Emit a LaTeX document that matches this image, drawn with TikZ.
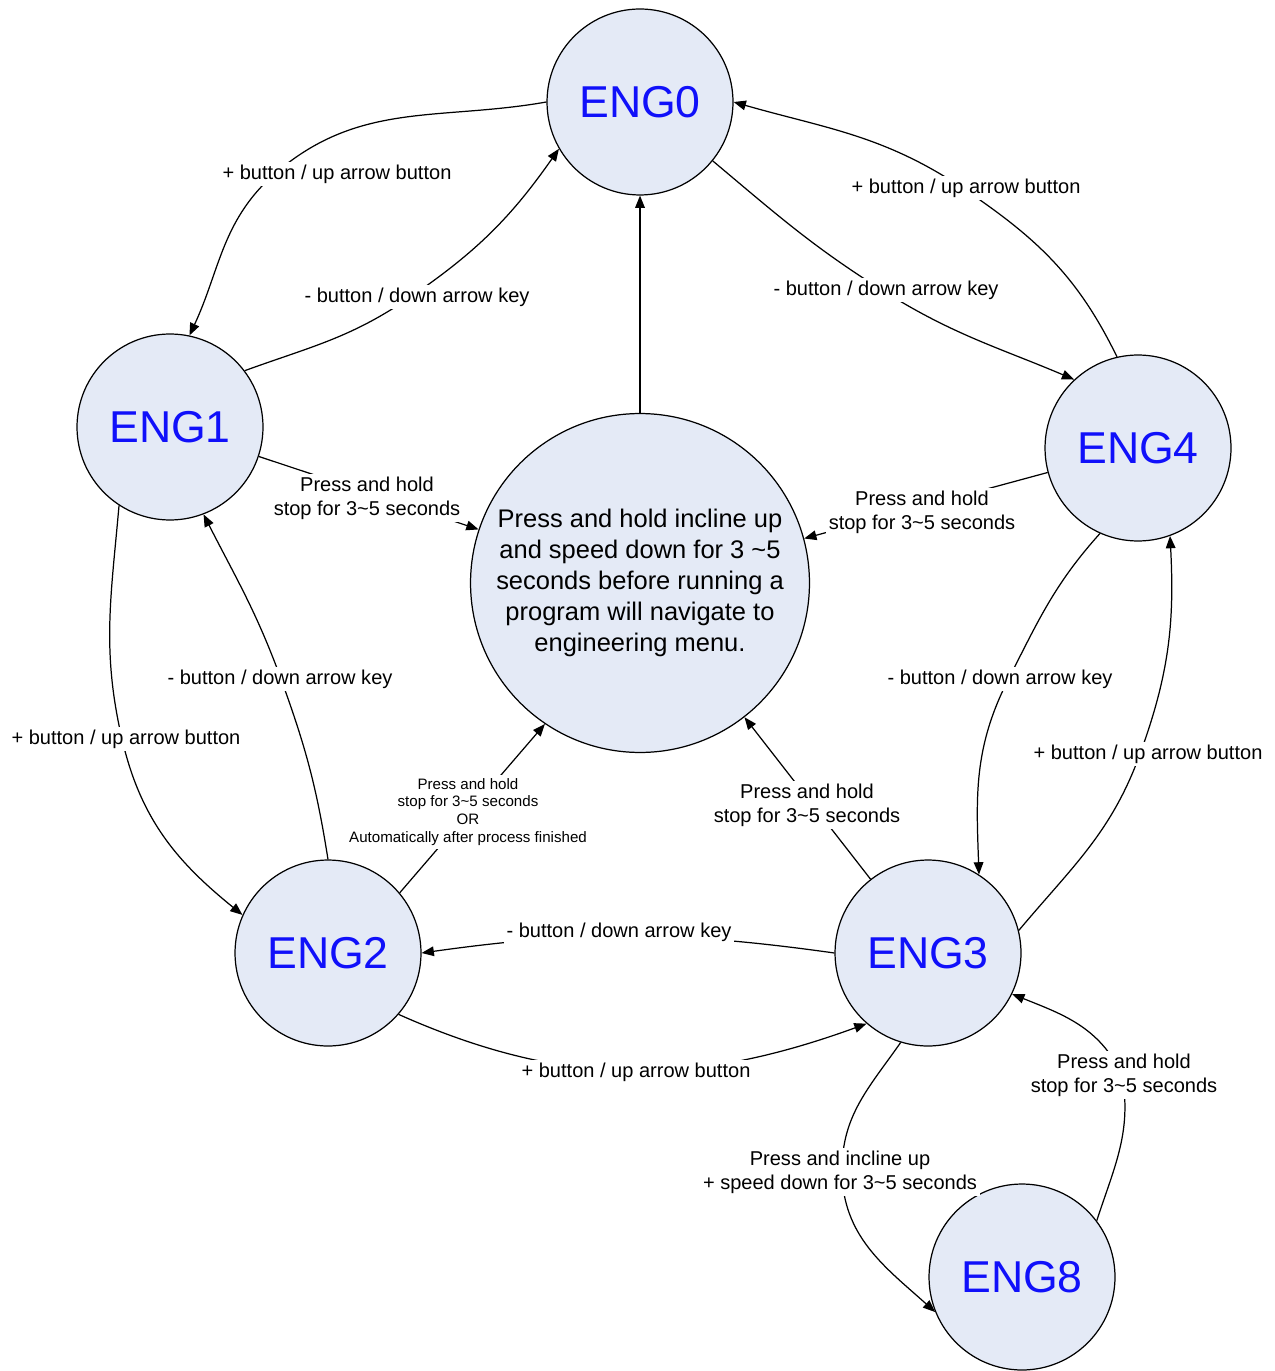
\documentclass[tikz,border=0pt]{standalone}
\usepackage{fontspec}
\setmainfont{Liberation Sans}
\usetikzlibrary{arrows.meta}
\definecolor{stanfill}{RGB}{228,234,246}
\definecolor{stanblue}{RGB}{16,16,250}
\newcommand{\tld}{\textasciitilde}

\begin{document}
\begin{tikzpicture}[x=0.02cm, y=0.02cm,
        stan/.style={circle, draw, line width=0.7pt, fill=stanfill, minimum size=3.72cm, inner sep=0pt, text=stanblue, font=\fontsize{25.4}{30}\selectfont},
        srodek/.style={circle, draw, line width=0.7pt, fill=stanfill, minimum size=6.78cm, inner sep=0pt, align=center, font=\fontsize{14.5}{17.6}\selectfont},
        opis/.style={fill=white, inner sep=1.5pt, align=center, font=\fontsize{11.4}{13.6}\selectfont},
        opismaly/.style={opis, font=\fontsize{8.6}{10.2}\selectfont},
        przejscie/.style={line width=0.7pt, -{Triangle[length=7pt, width=5.5pt]}}]
        \useasboundingbox (0,0) rectangle (1274,-1371);

        % Stany
        \node[stan] (eng0) at (640,-102) {ENG0};
        \node[stan] (eng1) at (170,-427) {ENG1};
        \node[stan] (eng4) at (1138,-448) {ENG4};
        \node[stan] (eng2) at (328,-953) {ENG2};
        \node[stan] (eng3) at (928,-953) {ENG3};
        \node[stan] (eng8) at (1022,-1277) {ENG8};
        \node[srodek] (menu) at (640,-583) {Press and hold incline up\\and speed down for 3 \tld5\\seconds before running a\\program will navigate to\\engineering menu.};

        % Punkty pośrednie łuków
        \coordinate (w1) at (278,-171);
        \coordinate (w2) at (406,-300);
        \coordinate (w4) at (885,-292);
        \coordinate (w5) at (964,-189);
        \coordinate (w10) at (281,-679);
        \coordinate (w11) at (122,-739);
        \coordinate (w14) at (1140,-754);
        \coordinate (w15) at (1008,-680);
        \coordinate (w16) at (842,-1170);
        \coordinate (w17) at (1122,-1075);

        % Przejścia
        \draw[przejscie] (eng0.180) to[out=190, in=40] (w1) to[out=220, in=65] (eng1.78);
        \draw[przejscie] (eng1.37) to[out=20, in=214] (w2) to[out=34, in=235] (eng0.210);
        \draw[przejscie] (menu) -- (eng0);
        \draw[przejscie] (eng0.321) to[out=-40, in=148] (w4) to[out=-32, in=157] (eng4.133);
        \draw[przejscie] (eng4.103) to[out=116, in=-34] (w5) to[out=146, in=-16] (eng0.0);
        \draw[przejscie] (eng1) -- (menu);
        \draw[przejscie] (eng4) -- (menu);
        \draw[przejscie] (eng3) -- (menu);
        \draw[przejscie] (eng2.40) -- (menu.236);
        \draw[przejscie] (eng2.90) to[out=99, in=-70] (w10) to[out=110, in=-63] (eng1.291);
        \draw[przejscie] (eng1.237) to[out=265, in=103] (w11) to[out=-77, in=141] (eng2.156);
        \draw[przejscie] (eng3.180) to[out=172, in=8] (eng2.0);
        \draw[przejscie] (eng2.-41) to[out=-24, in=200] (eng3.229);
        \draw[przejscie] (eng3.14) to[out=50, in=250] (w14) to[out=70, in=273] (eng4.290);
        \draw[przejscie] (eng4.246) to[out=228, in=63] (w15) to[out=243, in=92] (eng3.57);
        \draw[przejscie] (eng3.253) to[out=235, in=90] (w16) to[out=270, in=138] (eng8.202);
        \draw[przejscie] (eng8.37) to[out=72, in=-80] (w17) to[out=115, in=-22] (eng3.334);

        % Opisy przejść
        \node[opis] (l1) at (337,-174) {+ button / up arrow button};
        \node[opis] (l2) at (417,-297) {- button / down arrow key};
        \node[opis] (l3) at (886,-290) {- button / down arrow key};
        \node[opis] (l4) at (966,-188) {+ button / up arrow button};
        \node[opis] (l5) at (367,-498) {Press and hold\\stop for 3\tld5 seconds};
        \node[opis] (l6) at (922,-512) {Press and hold\\stop for 3\tld5 seconds};
        \node[opis] (l7) at (280,-679) {- button / down arrow key};
        \node[opis] (l8) at (126,-739) {+ button / up arrow button};
        \node[opismaly] (l9) at (468,-812) {Press and hold\\stop for 3\tld5 seconds\\OR\\Automatically after process finished};
        \node[opis] (l10) at (807,-805) {Press and hold\\stop for 3\tld5 seconds};
        \node[opis] (l11) at (1000,-679) {- button / down arrow key};
        \node[opis] (l12) at (1148,-754) {+ button / up arrow button};
        \node[opis] (l13) at (619,-932) {- button / down arrow key};
        \node[opis] (l14) at (636,-1072) {+ button / up arrow button};
        \node[opis] (l15) at (840,-1172) {Press and incline up\\+ speed down for 3\tld5 seconds};
        \node[opis] (l16) at (1124,-1075) {Press and hold\\stop for 3\tld5 seconds};
    \end{tikzpicture}
\end{document}
